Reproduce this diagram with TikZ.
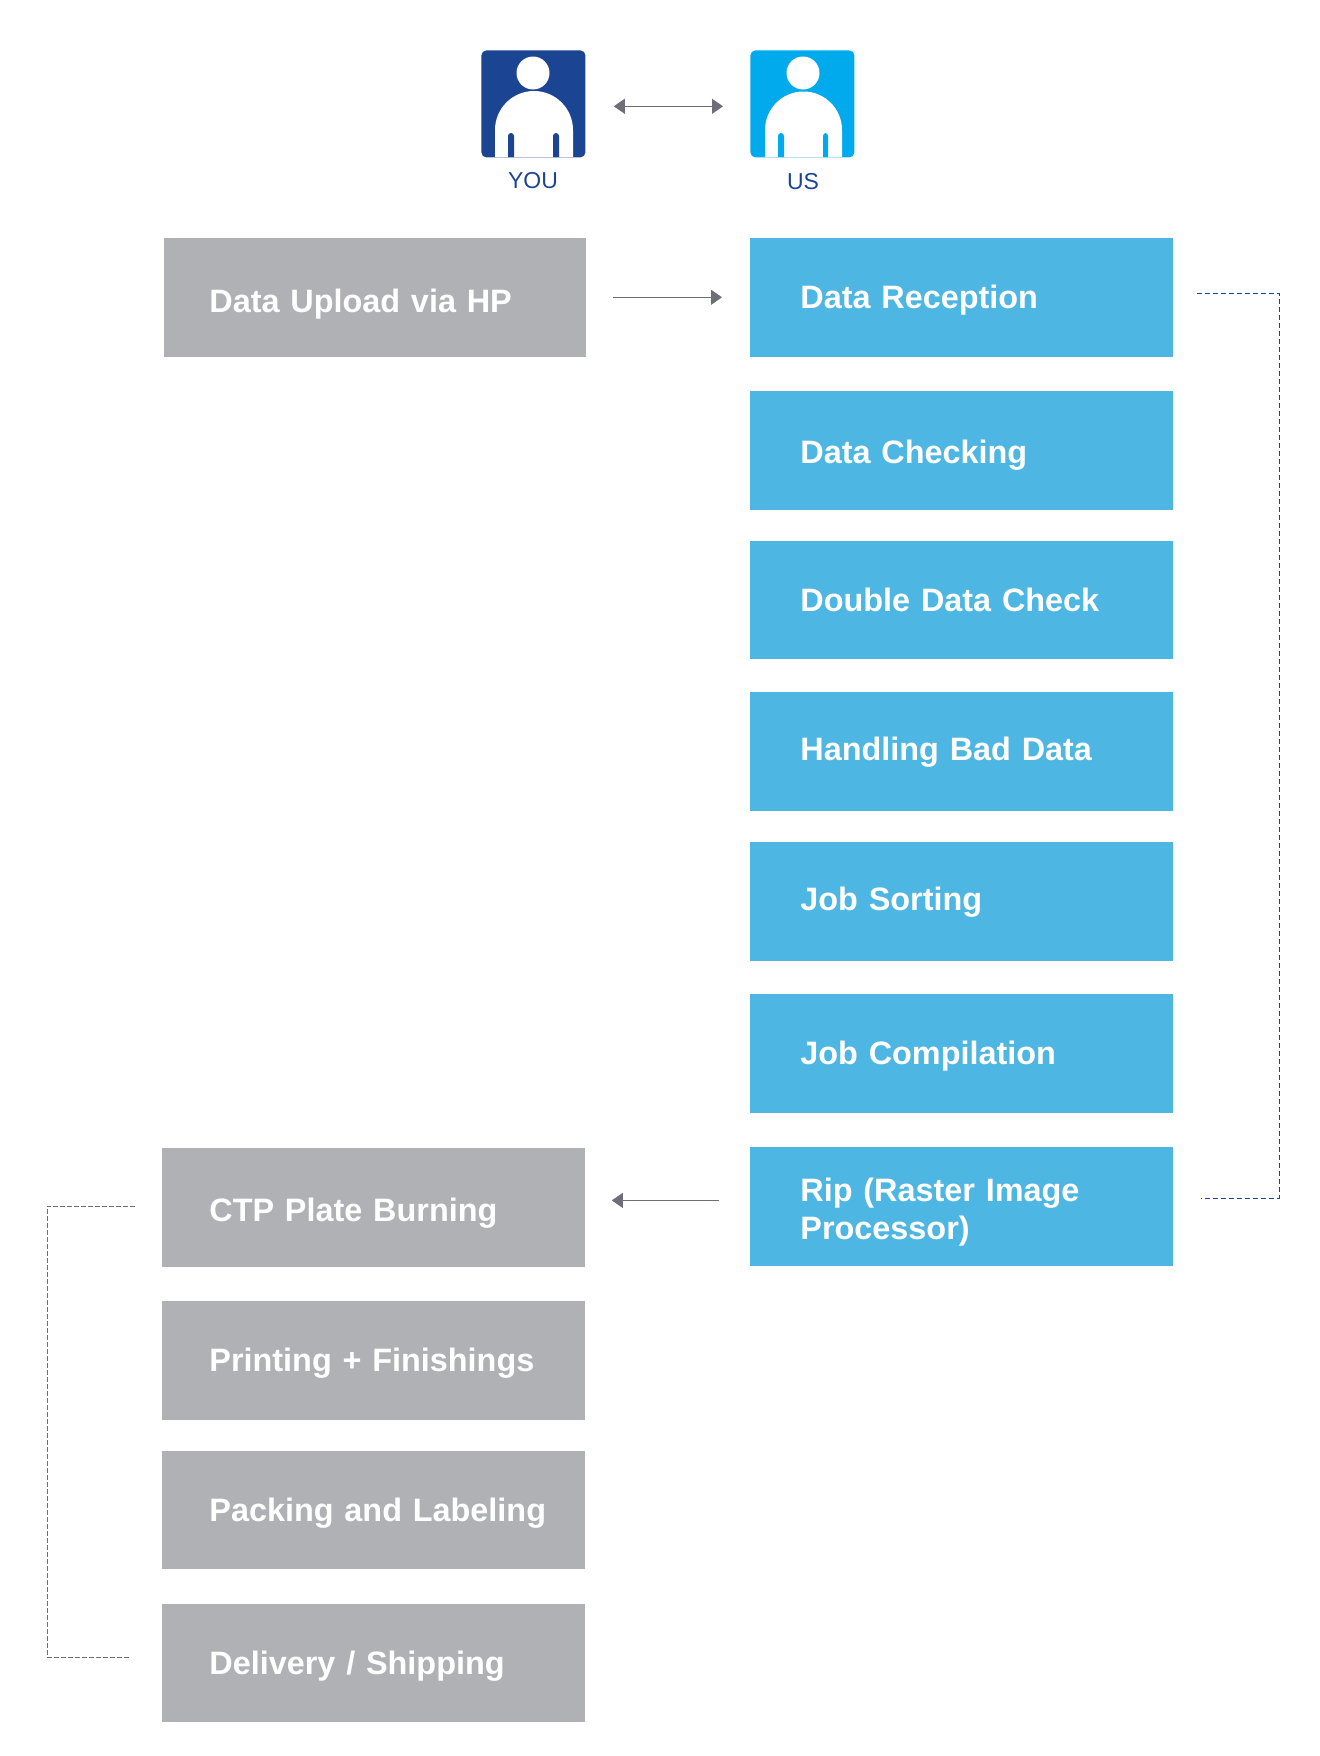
\documentclass[tikz,border=0pt]{standalone}
\usepackage{fontspec}
\setmainfont{Liberation Sans}[WordSpace=0.5]
\usetikzlibrary{arrows.meta,positioning}
\definecolor{youblue}{HTML}{1B4593}
\definecolor{usblue}{HTML}{00AAEC}
\definecolor{stepblue}{HTML}{4DB6E2}
\definecolor{stepgray}{HTML}{B0B1B4}
\definecolor{arrowgray}{HTML}{6D6E78}
\tikzset{
  stepbox/.style={anchor=north west, minimum width=211.5pt, minimum height=59.5pt, inner ysep=0pt,
    text height=12pt, text depth=3.5pt, align=left, text=white, font=\fontsize{16.2}{19}\selectfont\bfseries},
  bluebox/.style={stepbox, fill=stepblue, inner xsep=25pt, text width=161.5pt},
  graybox/.style={stepbox, fill=stepgray, inner xsep=23.5pt, text width=164.5pt},
  gapline/.style={arrowgray, line width=.5pt},
  icon/.style={anchor=north west, minimum width=52pt, minimum height=53.5pt, inner sep=0pt, rounded corners=2.5pt},
  iconlabel/.style={inner sep=0pt, text=youblue, font=\fontsize{11.5}{13}\selectfont},
  head/.style={circle, fill=white, minimum size=16.5pt, inner sep=0pt}
}
\begin{document}
\begin{tikzpicture}
[x=.5pt, y=-.5pt, >={Triangle[length=5.5pt,width=7.5pt]}]
\useasboundingbox (0,0) rectangle (1320,1756);

\node (YouIcon) at (481,50) [icon, fill=youblue] {};
\node (UsIcon) at (750,50) [icon, fill=usblue] {};
\node (YouHead) at (533,73) [head] {};
\node (UsHead) at (803,73) [head] {};
\fill [white] (495,157) -- (495,130) arc (180:360:39) -- (573,157) -- cycle;
\fill [white] (765,157) -- (765,130) arc (180:360:38.5) -- (842,157) -- cycle;
\fill [youblue, rounded corners=1.5pt] (508,157) -- (508,133) -- (514,133) -- (514,157);
\fill [youblue, rounded corners=1.5pt] (553,157) -- (553,133) -- (559,133) -- (559,157);
\fill [usblue, rounded corners=1.5pt] (778,157) -- (778,133) -- (784,133) -- (784,157);
\fill [usblue, rounded corners=1.5pt] (823,157) -- (823,133) -- (828,133) -- (828,157);
\node (YouLabel) at (533,181) [iconlabel] {YOU};
\node (UsLabel) at (803,182) [iconlabel] {US};

\node (Upload) at (164,238) [graybox, minimum width=211pt, inner xsep=22.5pt, text width=166pt, text height=17.6pt] {Data Upload via HP};
\node (Reception) at (750,238) [bluebox, text height=14.2pt] {Data Reception};
\node (Checking) at (750,391) [bluebox, text height=16.5pt] {Data Checking};
\node (Double) at (750,541) [bluebox, minimum height=59pt, text height=14.2pt] {Double Data Check};
\node (BadData) at (750,692) [bluebox] {Handling Bad Data};
\node (Sorting) at (750,842) [bluebox] {Job Sorting};
\node (Compilation) at (750,994) [bluebox, text height=14.2pt] {Job Compilation};
\node (Rip) at (750,1147) [bluebox, text depth=17.9pt] {Rip (Raster Image Processor)};

\node (Burning) at (162,1148) [graybox, text height=17pt] {CTP Plate Burning};
\node (Printing) at (162,1301) [graybox, text height=14.2pt] {\mbox{Printing + Finishings}};
\node (Packing) at (162,1451) [graybox, minimum height=59pt, text height=14.2pt] {\mbox{Packing and Labeling}};
\node (Delivery) at (162,1604) [graybox, minimum height=59pt, text height=14.2pt] {Delivery / Shipping};

\coordinate (BlueStart) at (1197,293);
\coordinate (BlueTop) at (1279,293);
\coordinate (BlueBottom) at (1279,1198);
\coordinate (BlueEnd) at (1201,1198);
\coordinate (GrayStart) at (135,1206);
\coordinate (GrayTop) at (47,1206);
\coordinate (GrayBottom) at (47,1657);
\coordinate (GrayEnd) at (131,1657);

\draw [<->, gapline, shorten <=14pt, shorten >=13.5pt] ([yshift=-1.2pt]YouIcon.east) -- ([yshift=-1.2pt]UsIcon.west);
\draw [->, gapline, shorten <=13pt, shorten >=14pt] ([yshift=.3pt]Upload.east) -- ([yshift=.3pt]Reception.west);
\draw [->, gapline, shorten <=15.5pt, shorten >=13pt] ([yshift=3.25pt]Rip.west) -- ([yshift=3.75pt]Burning.east);
\draw [youblue, line width=.5pt, dash pattern=on 2.5pt off 1.5pt] (BlueStart) -- (BlueTop) -- (BlueBottom) -- (BlueEnd);
\draw [arrowgray, line width=.35pt, dash pattern=on 2.5pt off 1pt] (GrayStart) -- (GrayTop) -- (GrayBottom) -- (GrayEnd);
\end{tikzpicture}
\end{document}
